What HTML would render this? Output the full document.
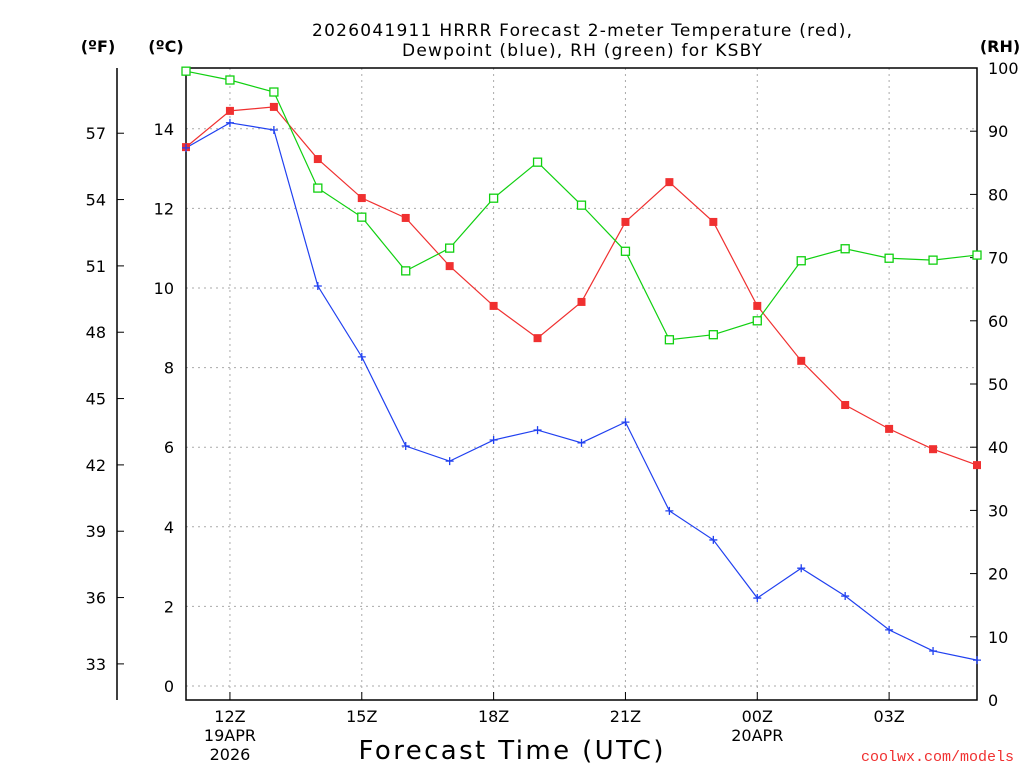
<!DOCTYPE html>
<html><head><meta charset="utf-8"><style>
body{margin:0;background:#fff;}
svg{display:block;font-family:"DejaVu Sans","Liberation Sans",sans-serif;}
</style></head><body>
<svg id="c" width="1024" height="768" viewBox="0 0 1024 768">
<g id="grid"></g>
<g id="axes"></g>
<g id="series"></g>
<text x="582" y="36" text-anchor="middle" font-size="17" textLength="540">2026041911 HRRR Forecast 2-meter Temperature (red),</text>
<text x="582" y="56" text-anchor="middle" font-size="17" textLength="360">Dewpoint (blue), RH (green) for KSBY</text>
<text x="98" y="52" text-anchor="middle" font-size="16" font-weight="bold">(ºF)</text>
<text x="166" y="52" text-anchor="middle" font-size="16" font-weight="bold">(ºC)</text>
<text x="1000" y="52" text-anchor="middle" font-size="16" font-weight="bold">(RH)</text>
<text x="511" y="759" text-anchor="middle" font-size="26" textLength="305">Forecast Time (UTC)</text>
<text x="1014" y="761" text-anchor="end" font-size="15" fill="#f03030" font-family="Liberation Mono, monospace">coolwx.com/models</text>
</svg>
<script>
const hours=[11,12,13,14,15,16,17,18,19,20,21,22,23,0,1,2,3,4,5];
const tempC=[13.54,14.45,14.55,13.24,12.26,11.76,10.55,9.55,8.74,9.65,11.66,12.66,11.66,9.55,8.17,7.06,6.46,5.95,5.55];
const dewC=[13.52,14.15,13.97,10.05,8.27,6.03,5.65,6.18,6.43,6.11,6.63,4.40,3.67,2.21,2.96,2.26,1.41,0.88,0.65];
const rh=[99.5,98.1,96.2,81.0,76.4,67.9,71.5,79.4,85.1,78.3,71.0,57.0,57.8,60.0,69.5,71.4,69.9,69.6,70.4];
const cTicks=[0,2,4,6,8,10,12,14];
const fTicks=[33,36,39,42,45,48,51,54,57];
const rhTicks=[0,10,20,30,40,50,60,70,80,90,100];
const xTickIdx=[1,4,7,10,13,16];
const xTickLabels=["12Z","15Z","18Z","21Z","00Z","03Z"];
const xSub=[["19APR","2026"],[],[],[],["20APR"],[]];

const X0=186,X1=977,Y0=68,Y1=700;
const xs=i=>X0+i*(X1-X0)/(hours.length-1);
const yc=c=>686-c*39.8;
const yr=r=>700-r*6.32;
const yf=f=>yc((f-32)*5/9);
const NS="http://www.w3.org/2000/svg";
function mk(p,t,a){const e=document.createElementNS(NS,t);for(const k in a)e.setAttribute(k,a[k]);p.appendChild(e);return e;}
const grid=document.getElementById('grid'),axes=document.getElementById('axes'),ser=document.getElementById('series');

cTicks.forEach(c=>{
 const g=mk(grid,'line',{x1:X0,x2:X1,y1:yc(c),y2:yc(c),stroke:'#aaa','stroke-dasharray':'2,4'});
 
 
 const t=mk(axes,'text',{x:174,y:yc(c)+6,'text-anchor':'end','font-size':16});t.textContent=c;
 
 
});
xTickIdx.forEach((i,k)=>{
 const g=mk(grid,'line',{x1:xs(i),x2:xs(i),y1:Y0,y2:Y1,stroke:'#aaa','stroke-dasharray':'2,4'});
 
 
 mk(axes,'line',{x1:xs(i),x2:xs(i),y1:Y1,y2:Y1-8,stroke:'#000'});
 const t=mk(axes,'text',{x:xs(i),y:722,'text-anchor':'middle','font-size':16});t.textContent=xTickLabels[k];
 
 
 xSub[k].forEach((s,j)=>{const u=mk(axes,'text',{x:xs(i),y:741+j*19,'text-anchor':'middle','font-size':16});u.textContent=s;
 
 });
});
mk(axes,'rect',{x:X0,y:Y0,width:X1-X0,height:Y1-Y0,fill:'none',stroke:'#000','stroke-width':1.5});
mk(axes,'line',{x1:117,x2:117,y1:Y0,y2:Y1,stroke:'#000','stroke-width':1.5});
fTicks.forEach(f=>{
 mk(axes,'line',{x1:117,x2:124,y1:yf(f),y2:yf(f),stroke:'#000'});
 const t=mk(axes,'text',{x:106,y:yf(f)+6,'text-anchor':'end','font-size':16});t.textContent=f;
 
 
});
rhTicks.forEach(r=>{
 mk(axes,'line',{x1:X1,x2:X1-7,y1:yr(r),y2:yr(r),stroke:'#000'});
 const t=mk(axes,'text',{x:988,y:yr(r)+6,'font-size':16});t.textContent=r;
 
 
});
function line(vals,yfun,col,name){
 const p=mk(ser,'polyline',{points:vals.map((v,i)=>xs(i)+','+yfun(v)).join(' '),fill:'none',stroke:col,'stroke-width':1.2});
 
 
}
line(tempC,yc,'#f03030','temperature');
line(dewC,yc,'#2040f0','dewpoint');
line(rh,yr,'#10d010','rh');
tempC.forEach((v,i)=>{const m=mk(ser,'rect',{x:xs(i)-4,y:yc(v)-4,width:8,height:8,fill:'#f03030'});
 
 });
dewC.forEach((v,i)=>{const m=mk(ser,'path',{d:`M${xs(i)-4},${yc(v)}h8M${xs(i)},${yc(v)-4}v8`,stroke:'#2040f0','stroke-width':1.3});
 
 });
rh.forEach((v,i)=>{const m=mk(ser,'rect',{x:xs(i)-4,y:yr(v)-4,width:8,height:8,fill:'#fff',stroke:'#10d010','stroke-width':1.3});
 
 });
</script>
</body></html>
